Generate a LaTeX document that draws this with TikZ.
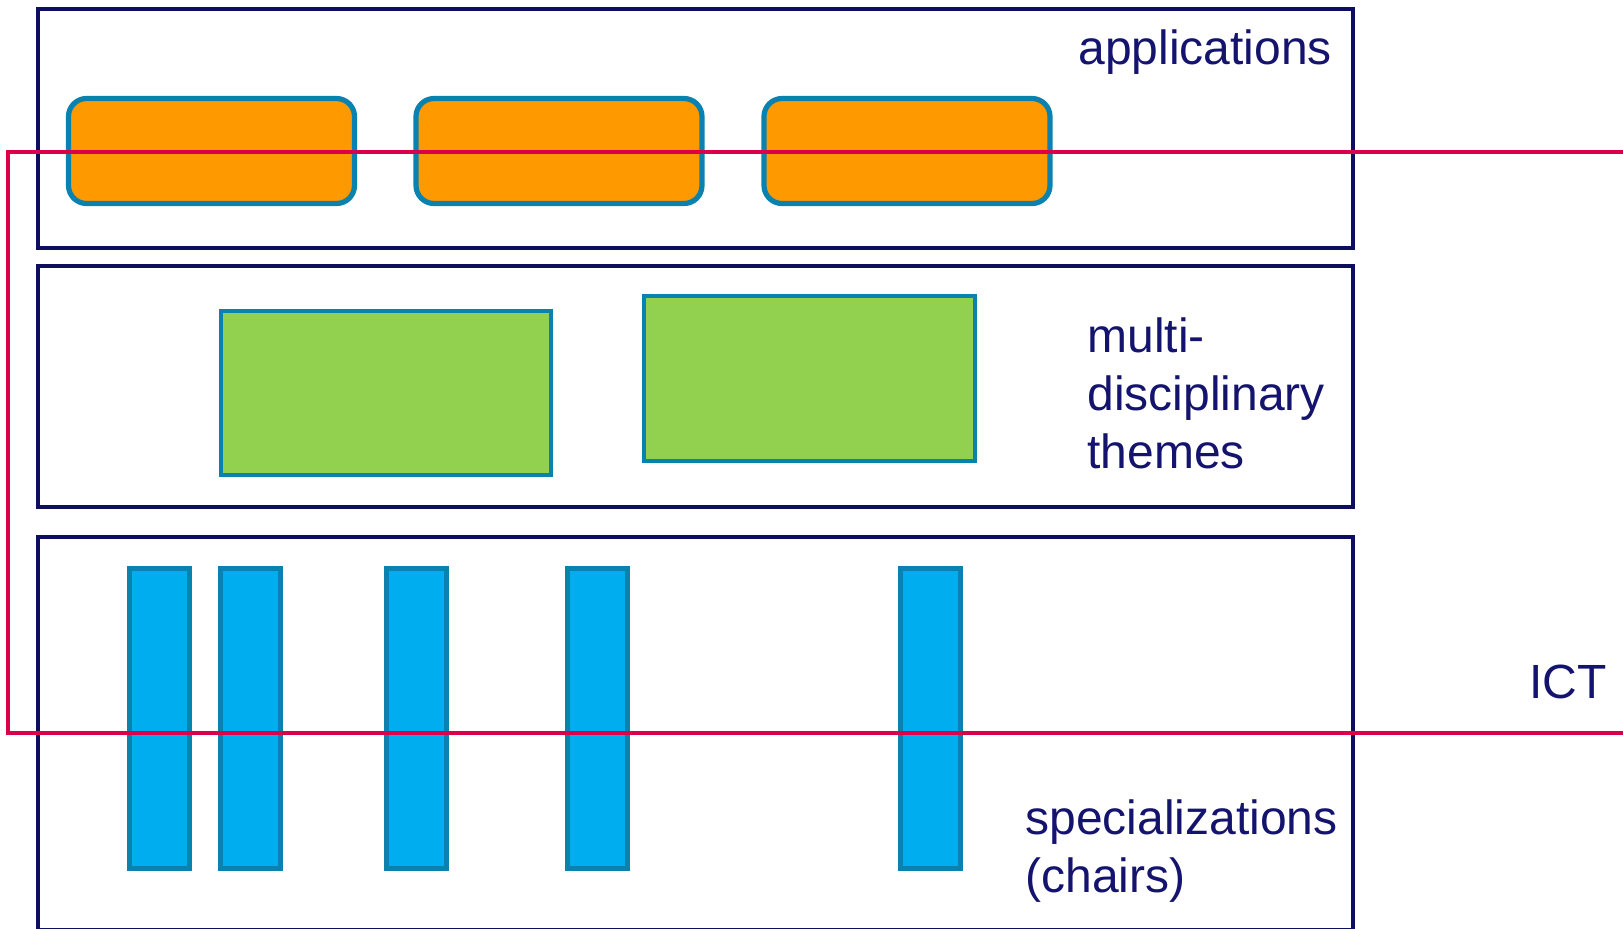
\documentclass[tikz,border=0pt]{standalone}
\usepackage{fontspec}
\setmainfont{Liberation Sans}
\definecolor{navy}{HTML}{0E0E5E}
\definecolor{txtnavy}{HTML}{14146E}
\definecolor{orangefill}{HTML}{FF9900}
\definecolor{edgeblue}{HTML}{0A82B0}
\definecolor{greenfill}{HTML}{92D050}
\definecolor{barfill}{HTML}{00AEEF}
\definecolor{ictred}{HTML}{DA0049}
\tikzset{
  layerbox/.style={draw=navy, line width=2.1pt, inner sep=0pt},
  appbox/.style={draw=edgeblue, fill=orangefill, line width=2.6pt, rounded corners=9pt, minimum width=143pt, minimum height=52.5pt, inner sep=0pt},
  themebox/.style={draw=edgeblue, fill=greenfill, line width=2.2pt, minimum width=165pt, minimum height=82pt, inner sep=0pt},
  chairbar/.style={draw=edgeblue, fill=barfill, line width=2.5pt, minimum width=30pt, minimum height=150pt, inner sep=0pt},
  lbl/.style={text=txtnavy, font=\fontsize{24}{29}\selectfont, inner sep=0pt, align=left},
  ictline/.style={draw=ictred, line width=2pt}
}
\begin{document}
\begin{tikzpicture}[x=0.5pt,y=-0.5pt]
\useasboundingbox (0,0) rectangle (1623,928);
% layers
\node[layerbox, minimum width=657.5pt, minimum height=119.5pt] (apps) at (695.5,128.5) {};
\node[layerbox, minimum width=657.5pt, minimum height=120.5pt] (themes) at (695.5,386.5) {};
\node[layerbox, minimum width=657.5pt, minimum height=196.5pt] (chairs) at (695.5,733.5) {};
% applications
\node[appbox] (a1) at (211.5,151) {};
\node[appbox] (a2) at (559,151) {};
\node[appbox] (a3) at (907,151) {};
% themes
\node[themebox] (t1) at (386,393) {};
\node[themebox, minimum width=165.5pt, minimum height=82.5pt] (t2) at (809.5,378.5) {};
% chairs
\node[chairbar] (c1) at (159,718.5) {};
\node[chairbar] (c2) at (250,718.5) {};
\node[chairbar] (c3) at (416,718.5) {};
\node[chairbar] (c4) at (597.5,718.5) {};
\node[chairbar] (c5) at (930,718.5) {};
% labels
\node[lbl, anchor=base west] (lapps) at (1078,64) {applications};
\node[lbl, anchor=base west] (lthemes) at (1087,468) {multi-\\disciplinary\\themes};
\node[lbl, anchor=base west] (lchairs) at (1025,892) {specializations\\(chairs)};
\node[lbl, anchor=base west] (lict) at (1529,698) {ICT};
% ICT boundary
\coordinate (ictTR) at (1640,152);
\coordinate (ictTL) at (8,152);
\coordinate (ictBL) at (8,733);
\coordinate (ictBR) at (1640,733);
\draw[ictline] (ictTR) -- (ictTL) -- (ictBL) -- (ictBR);
\end{tikzpicture}
\end{document}
